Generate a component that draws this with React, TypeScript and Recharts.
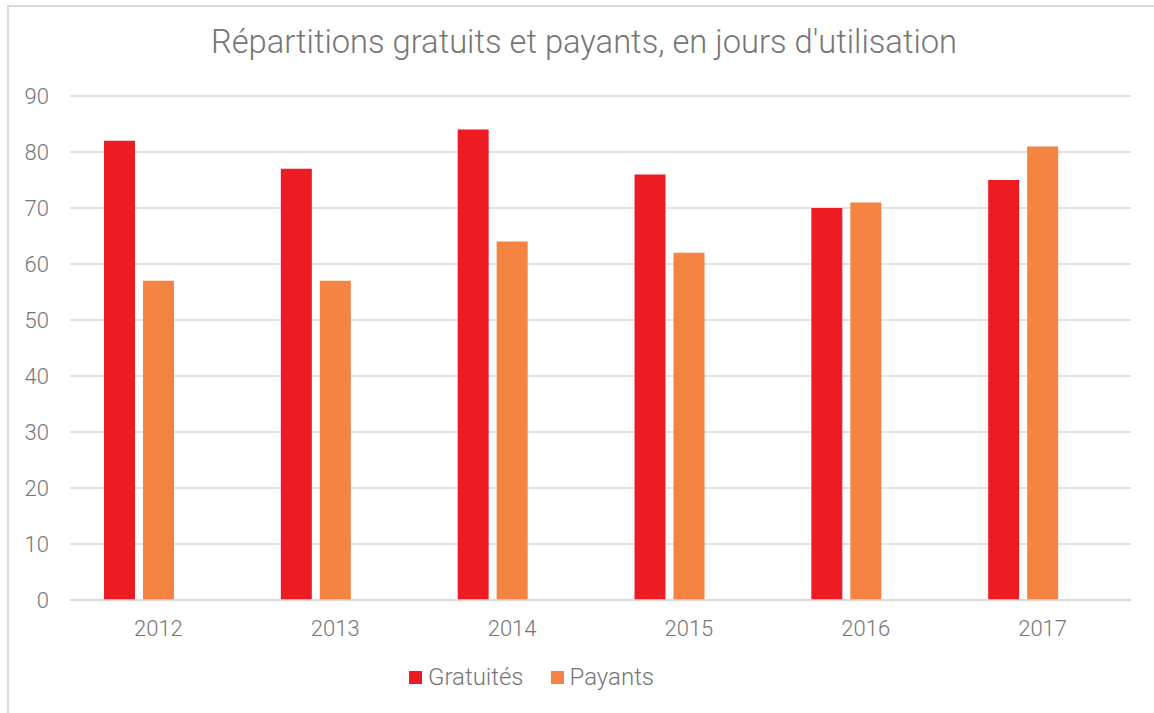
import { BarChart, Bar, XAxis, YAxis, CartesianGrid } from "recharts";

const YEARS = ["2012", "2013", "2014", "2015", "2016", "2017"];
const GRATUITES = [82, 77, 84, 76, 70, 75];
const PAYANTS = [57, 57, 64, 62, 71, 81];
// third, empty series kept from the source sheet (it reserves a slot in each group)
const AUTRE: (number | null)[] = [null, null, null, null, null, null];
const Y_TICKS = [0, 10, 20, 30, 40, 50, 60, 70, 80, 90];

const TITLE = "Répartitions gratuits et payants, en jours d'utilisation";
const FONT = "Roboto, 'DejaVu Sans', sans-serif";
const TEXT = "#767676";
const GRID = "#d9d9d9";
const RED = "#ED1C24";
const ORANGE = "#F58442";

const LEGEND_ITEMS = [
  { label: "Gratuités", color: RED },
  { label: "Payants", color: ORANGE },
];

const data = YEARS.map((year, i) => ({
  year,
  gratuites: GRATUITES[i],
  payants: PAYANTS[i],
  autre: AUTRE[i],
}));

function LegendBox() {
  return (
    <div style={{ display: "flex", alignItems: "center", fontFamily: FONT, fontWeight: 300, fontSize: 24, color: TEXT }}>
      {LEGEND_ITEMS.map((it) => (
        <div key={it.label} style={{ display: "flex", alignItems: "center", marginRight: 27 }}>
          <span style={{ width: 13, height: 13, background: it.color, display: "inline-block", marginRight: 6 }} />
          <span>{it.label}</span>
        </div>
      ))}
    </div>
  );
}

export default function App() {
  return (
    <div style={{ position: "fixed", left: 0, top: 0, width: 1154, height: 713, background: "#fff", overflow: "hidden" }}>
      <div
        style={{
          position: "absolute",
          left: 7,
          top: 5,
          width: 1200,
          height: 800,
          borderLeft: "2px solid #d9d9d9",
          borderTop: "2px solid #d9d9d9",
        }}
      />
      <div
        style={{
          position: "absolute",
          left: 7,
          width: 1154,
          top: 23,
          textAlign: "center",
          fontFamily: FONT,
          fontWeight: 300,
          fontSize: 32.7,
          color: TEXT,
          whiteSpace: "nowrap",
        }}
      >
        {TITLE}
      </div>
      <div style={{ position: "absolute", left: 0, top: 0 }}>
        <BarChart
          width={1154}
          height={713}
          data={data}
          margin={{ top: 96, right: 23, bottom: 83, left: 20 }}
          barSize={31}
          barGap={8}
        >
          <CartesianGrid vertical={false} stroke={GRID} strokeWidth={1.5} />
          <XAxis
            dataKey="year"
            height={30}
            axisLine={{ stroke: GRID, strokeWidth: 1.5 }}
            tickLine={false}
            tickSize={0}
            tickMargin={20}
            tick={{ fill: TEXT, fontSize: 22, fontFamily: FONT, fontWeight: 300 }}
          />
          <YAxis
            width={50}
            domain={[0, 90]}
            ticks={Y_TICKS}
            axisLine={false}
            tickLine={false}
            tickSize={0}
            tickMargin={21}
            tick={{ fill: TEXT, fontSize: 22, fontFamily: FONT, fontWeight: 300 }}
          />
          <Bar dataKey="gratuites" name="Gratuités" fill={RED} isAnimationActive={false} />
          <Bar dataKey="payants" name="Payants" fill={ORANGE} isAnimationActive={false} />
          <Bar dataKey="autre" name="" fill="#A5A5A5" legendType="none" isAnimationActive={false} />
        </BarChart>
      </div>
      <div style={{ position: "absolute", left: 409, top: 663 }}>
        <LegendBox />
      </div>
    </div>
  );
}
